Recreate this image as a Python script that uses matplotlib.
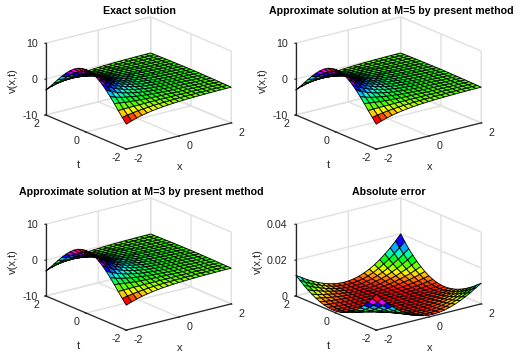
import numpy as np
import matplotlib
matplotlib.use("Agg")
import matplotlib.pyplot as plt

plt.rcParams['font.family'] = ['Liberation Sans', 'DejaVu Sans']
plt.rcParams['font.size'] = 8
plt.rcParams['grid.color'] = '#e0e0e0'
plt.rcParams['grid.linewidth'] = 1.0
plt.rcParams['axes3d.automargin'] = False
plt.rcParams['axes.unicode_minus'] = False

x_vals = [-2.0, -1.8, -1.6, -1.4, -1.2, -1.0, -0.8, -0.6, -0.4, -0.2, 0.0,
          0.2, 0.4, 0.6, 0.8, 1.0, 1.2, 1.4, 1.6, 1.8, 2.0]
t_vals = list(x_vals)

# v(x,t) read from the surface, one row per |t|, x running from -2 to 2
v_t00 = [7.39, 6.05, 4.95, 4.06, 3.32, 2.72, 2.23, 1.82, 1.49, 1.22, 1.00, .82, .67, .55, .45, .37, .30, .25, .20, .17, .14]
v_t02 = [7.24, 5.93, 4.85, 3.97, 3.25, 2.66, 2.18, 1.79, 1.46, 1.20, .98, .80, .66, .54, .44, .36, .30, .24, .20, .16, .13]
v_t04 = [6.81, 5.57, 4.56, 3.73, 3.06, 2.50, 2.05, 1.68, 1.37, 1.12, .92, .75, .62, .51, .41, .34, .28, .23, .19, .15, .12]
v_t06 = [6.10, 4.99, 4.09, 3.35, 2.74, 2.24, 1.84, 1.50, 1.23, 1.01, .83, .68, .55, .45, .37, .30, .25, .20, .17, .14, .11]
v_t08 = [5.15, 4.22, 3.45, 2.83, 2.31, 1.89, 1.55, 1.27, 1.04, .85, .70, .57, .47, .38, .31, .26, .21, .17, .14, .12, .09]
v_t10 = [3.99, 3.27, 2.67, 2.19, 1.79, 1.47, 1.20, .98, .81, .66, .54, .44, .36, .30, .24, .20, .16, .13, .11, .09, .07]
v_t12 = [2.67, 2.19, 1.79, 1.47, 1.20, .98, .81, .66, .54, .44, .36, .30, .24, .20, .16, .13, .11, .09, .07, .06, .05]
v_t14 = [1.26, 1.03, .84, .69, .56, .46, .38, .31, .25, .21, .17, .14, .11, .09, .08, .06, .05, .04, .03, .03, .02]
v_t16 = [-.21, -.18, -.14, -.12, -.10, -.08, -.06, -.05, -.04, -.04, -.03, -.02, -.02, -.02, -.01, -.01, -.01, -.01, -.01, 0, 0]
v_t18 = [-1.68, -1.37, -1.12, -.92, -.75, -.62, -.51, -.41, -.34, -.28, -.23, -.19, -.15, -.12, -.10, -.08, -.07, -.06, -.05, -.04, -.03]
v_t20 = [-3.07, -2.52, -2.06, -1.69, -1.38, -1.13, -.93, -.76, -.62, -.51, -.42, -.34, -.28, -.23, -.19, -.15, -.13, -.10, -.08, -.07, -.06]

v_exact = [v_t20, v_t18, v_t16, v_t14, v_t12, v_t10, v_t08, v_t06, v_t04, v_t02, v_t00,
           v_t02, v_t04, v_t06, v_t08, v_t10, v_t12, v_t14, v_t16, v_t18, v_t20]
v_m5 = v_exact
v_m3 = v_exact

# absolute error read from the surface, in units of 1e-4; t from -2 to 2, x from -2 to 2
err_e4 = [
 [200, 167, 136, 110, 85.5, 64.8, 47, 32.7, 22, 14.4, 10, 9.3, 11.5, 16.6, 24.4, 34.8, 47.3, 62, 78, 97, 115],
 [167, 138, 113, 90, 69.7, 52.5, 37.4, 25.5, 16.7, 10.4, 7, 6.4, 8.6, 13, 19.7, 28.8, 39.1, 51, 65, 79, 97],
 [136, 113, 92, 73, 55.6, 41.3, 29.4, 19.6, 12.2, 7.3, 4.6, 4.3, 6.2, 10.1, 15.8, 22.9, 31.6, 42, 53, 65, 78],
 [110, 90, 73, 57, 44.3, 32.3, 22.7, 14.9, 8.9, 4.9, 2.9, 2.8, 4.5, 7.8, 12.5, 18.3, 25.4, 32.8, 42, 51, 62],
 [85.5, 69.7, 55.6, 44.3, 33, 24.4, 17, 10.8, 6.2, 3.2, 1.7, 1.7, 3.2, 5.8, 9.5, 14, 19, 25.4, 31.6, 39.1, 47.3],
 [64.8, 52.5, 41.3, 32.3, 24.4, 17.7, 12.1, 7.5, 4.2, 1.9, .9, 1, 2.2, 4.2, 6.9, 10.2, 14, 18.3, 22.9, 28.8, 34.8],
 [47, 37.4, 29.4, 22.7, 17, 12.1, 8.1, 5, 2.6, 1.1, .41, .55, 1.4, 2.8, 4.7, 6.9, 9.5, 12.5, 15.8, 19.7, 24.4],
 [32.7, 25.5, 19.6, 14.9, 10.8, 7.5, 5, 3, 1.5, .55, .15, .28, .84, 1.7, 2.8, 4.2, 5.8, 7.8, 10.1, 13, 16.6],
 [22, 16.7, 12.2, 8.9, 6.2, 4.2, 2.6, 1.5, .72, .23, .04, .12, .41, .84, 1.4, 2.2, 3.2, 4.5, 6.2, 8.6, 11.5],
 [14.4, 10.4, 7.3, 4.9, 3.2, 1.9, 1.1, .55, .23, .06, 0, .04, .12, .28, .55, 1, 1.7, 2.8, 4.3, 6.4, 9.3],
 [10, 7, 4.6, 2.9, 1.7, .9, .41, .15, .04, 0, 0, 0, .04, .15, .41, .9, 1.7, 2.9, 4.6, 7, 10],
 [9.3, 6.4, 4.3, 2.8, 1.7, 1, .55, .28, .12, .04, 0, .06, .23, .55, 1.1, 1.9, 3.2, 4.9, 7.3, 10.4, 14.4],
 [11.5, 8.6, 6.2, 4.5, 3.2, 2.2, 1.4, .84, .41, .12, .04, .23, .72, 1.5, 2.6, 4.2, 6.2, 8.9, 12.2, 16.7, 22],
 [16.6, 13, 10.1, 7.8, 5.8, 4.2, 2.8, 1.7, .84, .28, .15, .55, 1.5, 3, 5, 7.5, 10.8, 14.9, 19.6, 25.5, 32.7],
 [24.4, 19.7, 15.8, 12.5, 9.5, 6.9, 4.7, 2.8, 1.4, .55, .41, 1.1, 2.6, 5, 8.1, 12.1, 17, 22.7, 29.4, 37.4, 47],
 [34.8, 28.8, 22.9, 18.3, 14, 10.2, 6.9, 4.2, 2.2, 1, .9, 1.9, 4.2, 7.5, 12.1, 17.7, 24.4, 32.3, 41.3, 52.5, 64.8],
 [47.3, 39.1, 31.6, 25.4, 19, 14, 9.5, 5.8, 3.2, 1.7, 1.7, 3.2, 6.2, 10.8, 17, 24.4, 33, 44.3, 55.6, 69.7, 85.5],
 [62, 51, 42, 32.8, 25.4, 18.3, 12.5, 7.8, 4.5, 2.8, 2.9, 4.9, 8.9, 14.9, 22.7, 32.3, 44.3, 57, 73, 90, 110],
 [78, 65, 53, 42, 31.6, 22.9, 15.8, 10.1, 6.2, 4.3, 4.6, 7.3, 12.2, 19.6, 29.4, 41.3, 55.6, 73, 92, 113, 136],
 [97, 79, 65, 51, 39.1, 28.8, 19.7, 13, 8.6, 6.4, 7, 10.4, 16.7, 25.5, 37.4, 52.5, 69.7, 90, 113, 138, 167],
 [115, 97, 78, 62, 47.3, 34.8, 24.4, 16.6, 11.5, 9.3, 10, 14.4, 22, 32.7, 47, 64.8, 85.5, 110, 136, 167, 200],
]

titles = ['Exact solution', 'Approximate solution at M=5 by present method',
          'Approximate solution at M=3 by present method', 'Absolute error']
z_ticks_v = [-10, 0, 10]
z_ticks_e = [0, 0.02, 0.04]
xy_ticks = [-2, 0, 2]

W, H = 520, 363
S = 200.0
INK = '#262626'
fig = plt.figure(figsize=(W / 100, H / 100), dpi=100, facecolor='white')

X, T = np.meshgrid(x_vals, t_vals)


def panel(z, title, lim, zt, ztl, left, top, title_x, zlabel_dx=0.0):
    ax = fig.add_axes([left / W, 1 - (top + S) / H, S / W, S / H],
                      projection='3d', proj_type='ortho')
    ax.patch.set_alpha(0)
    ax.set_box_aspect((1, 1, 0.574), zoom=0.98)
    ax.view_init(elev=19, azim=-127.5)
    z = np.asarray(z, float)
    norm = plt.Normalize(z.min(), z.max())
    ax.plot_surface(X, T, z, facecolors=plt.cm.hsv(norm(z)), rstride=1, cstride=1,
                    shade=False, edgecolor='black', linewidth=0.6, antialiased=True)
    ax.set_xlim(-2, 2)
    ax.set_ylim(-2, 2)
    ax.set_zlim(*lim)
    ax.set_xticks(xy_ticks)
    ax.set_yticks(xy_ticks)
    ax.set_zticks(zt)
    ax.set_zticklabels(ztl)
    ax.zaxis.set_ticks_position('upper')
    for a in (ax.xaxis, ax.yaxis, ax.zaxis):
        a.set_pane_color((1, 1, 1, 0))
        a.pane.set_edgecolor('#e0e0e0')
        a.line.set_color(INK)
        a.line.set_linewidth(0.9)
        a._axinfo['axisline']['color'] = INK
        a._axinfo['axisline']['linewidth'] = 0.9
        a._axinfo['tick'].update(inward_factor=0.1, outward_factor=0.0)
        a._axinfo['tick']['color'] = INK
    ax.tick_params(axis='x', colors=INK, labelsize=7.7, pad=-1)
    ax.tick_params(axis='y', colors=INK, labelsize=7.7, pad=-1)
    ax.tick_params(axis='z', colors=INK, labelsize=7.7, pad=-4.7)
    for lab in ax.get_xticklabels():
        lab.set_ha('left')
        lab.set_va('center')
    for lab in ax.get_yticklabels():
        lab.set_va('center')
    for lab in ax.get_zticklabels():
        lab.set_ha('right')
        lab.set_va('center_baseline')

    def pos(px, py):
        return (px - left) / S, 1 - (py - top) / S

    lx = pos(left + 144.2, top + 181.3)
    ly = pos(left + 42.2, top + 179.3)
    lz = pos(left - 22.8 + zlabel_dx, top + 95.3)
    ax.text2D(*lx, 'x', transform=ax.transAxes, fontsize=8, color=INK, ha='center', va='center')
    ax.text2D(*ly, 't', transform=ax.transAxes, fontsize=8, color=INK, ha='center', va='center')
    ax.text2D(*lz, 'v(x,t)', transform=ax.transAxes, fontsize=8, color=INK, rotation=90,
              ha='center', va='center')
    ax.set_title(title, fontsize=7.65, fontweight='bold', color='black', x=title_x, y=0.888)
    return ax


left0, top0 = 35.8, -14.3
panel(v_exact, titles[0], (-10, 10), z_ticks_v, ['-10', '0', '10'], left0, top0, 0.5165)
panel(v_m5, titles[1], (-10, 10), z_ticks_v, ['-10', '0', '10'], left0 + 250, top0, 0.526)
panel(v_m3, titles[2], (-10, 10), z_ticks_v, ['-10', '0', '10'], left0, top0 + 181, 0.528)
panel(np.asarray(err_e4) * 1e-4, titles[3], (0, 0.04), z_ticks_e, ['0', '0.02', '0.04'],
      left0 + 250, top0 + 181, 0.5165, zlabel_dx=-5)

fig.savefig('out.png', dpi=100)
